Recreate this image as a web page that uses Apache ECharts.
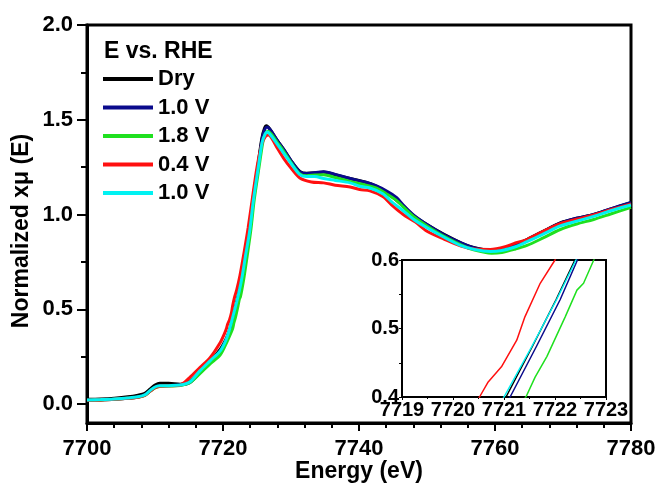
<!DOCTYPE html>
<html><head><meta charset="utf-8">
<script src="https://cdn.jsdelivr.net/npm/echarts@6/dist/echarts.min.js"></script>
<style>html,body{margin:0;padding:0;background:#fff}#c{width:659px;height:486px}</style>
</head><body><div id="c"></div>
<script>
// ---- data: [Energy (eV), normalized xμ(E)] ----
const seriesNames = ['Dry', '1.0 V', '1.8 V', '0.4 V', '1.0 V '];
const seriesColors = ['#000000', '#0a0a8c', '#1fe01f', '#ff1010', '#00f2f2'];
const xTicks = [7700, 7720, 7740, 7760, 7780];
const yMajorTicks = [0, 0.5, 1.0, 1.5, 2.0];
const yMinorTicks = [0.25, 0.75, 1.25, 1.75];
const insetXTicks = [7719, 7720, 7721, 7722, 7723];
const insetYTicks = [0.4, 0.5, 0.6];

const dry = [[7700,0.025],[7702,0.027],[7704,0.031],[7706,0.038],[7707.5,0.047],[7708.5,0.057],[7709.3,0.08],[7710,0.10],[7710.7,0.11],[7712,0.11],[7713.7,0.105],[7715.1,0.12],[7716.6,0.17],[7718.1,0.225],[7719.6,0.29],[7720.4,0.34],[7720.75,0.37],[7721.04,0.40],[7721.55,0.473],[7722.02,0.542],[7722.39,0.60],[7722.8,0.67],[7723.3,0.78],[7723.9,0.93],[7724.4,1.08],[7725.1,1.25],[7725.7,1.40],[7726.1,1.455],[7726.4,1.468],[7726.9,1.45],[7727.9,1.395],[7728.9,1.345],[7729.9,1.29],[7731.3,1.228],[7732.3,1.218],[7733.5,1.22],[7734.8,1.225],[7736.5,1.21],[7738.7,1.19],[7741,1.17],[7742.5,1.15],[7744,1.12],[7745,1.09],[7746.5,1.045],[7748,0.995],[7750,0.947],[7752.5,0.895],[7755,0.851],[7757,0.825],[7759.3,0.812],[7761,0.818],[7763,0.84],[7764.7,0.868],[7767,0.91],[7769.6,0.956],[7772,0.98],[7774.5,1.0],[7777,1.03],[7780,1.063]];
const v10a = [[7700,0.02],[7702,0.022],[7704,0.025],[7706,0.03],[7707.5,0.037],[7708.5,0.048],[7709.3,0.07],[7710,0.088],[7710.7,0.096],[7712,0.097],[7713.7,0.1],[7715.1,0.113],[7716.6,0.165],[7718.1,0.218],[7719.6,0.28],[7720.4,0.33],[7720.8,0.365],[7721.12,0.40],[7721.63,0.473],[7722.1,0.542],[7722.44,0.60],[7722.85,0.67],[7723.35,0.78],[7723.95,0.93],[7724.45,1.08],[7725.15,1.25],[7725.75,1.40],[7726.15,1.45],[7726.5,1.462],[7727,1.445],[7728,1.39],[7729,1.34],[7730,1.285],[7731.3,1.225],[7732.3,1.217],[7733.5,1.22],[7734.8,1.226],[7736.5,1.212],[7738.7,1.19],[7741,1.17],[7742.5,1.152],[7744,1.125],[7745.5,1.09],[7746.5,1.05],[7748,0.998],[7750,0.947],[7752.5,0.893],[7755,0.85],[7757,0.823],[7759.3,0.81],[7761,0.816],[7763,0.838],[7764.7,0.866],[7767,0.908],[7769.6,0.955],[7772,0.98],[7774.5,1.0],[7777,1.03],[7780,1.064]];
const v18 = [[7700,0.02],[7702,0.022],[7704,0.025],[7706,0.03],[7707.5,0.036],[7708.5,0.045],[7709.3,0.068],[7710,0.085],[7710.7,0.093],[7712,0.095],[7713.7,0.098],[7715.1,0.112],[7716.6,0.16],[7718.1,0.212],[7719.6,0.26],[7720.6,0.33],[7721.1,0.37],[7721.43,0.40],[7721.61,0.429],[7721.84,0.459],[7722.2,0.517],[7722.43,0.556],[7722.56,0.566],[7722.76,0.60],[7723.1,0.67],[7723.55,0.78],[7724.1,0.92],[7724.6,1.08],[7725.3,1.25],[7725.9,1.39],[7726.3,1.43],[7726.6,1.44],[7727.1,1.425],[7728,1.38],[7729,1.33],[7730,1.275],[7731.3,1.215],[7732.3,1.205],[7733.5,1.208],[7734.8,1.21],[7736.5,1.195],[7738.7,1.175],[7741,1.155],[7742.5,1.14],[7744,1.11],[7745.5,1.075],[7746.5,1.04],[7748,0.99],[7750,0.94],[7752.5,0.885],[7755,0.84],[7757,0.812],[7759.5,0.796],[7761,0.80],[7763,0.818],[7764.7,0.837],[7767,0.875],[7769.6,0.921],[7772,0.95],[7774.5,0.974],[7777,1.003],[7780,1.038]];
const v04 = [[7700,0.02],[7702,0.022],[7704,0.025],[7706,0.03],[7707.5,0.036],[7708.5,0.046],[7709.3,0.068],[7710,0.086],[7710.7,0.094],[7712,0.096],[7713.7,0.1],[7715.1,0.14],[7716.6,0.193],[7718.1,0.245],[7719.6,0.325],[7720.2,0.37],[7720.52,0.40],[7720.69,0.422],[7720.95,0.444],[7721.25,0.483],[7721.41,0.517],[7721.71,0.566],[7722.0,0.60],[7722.5,0.68],[7723.1,0.8],[7723.7,0.93],[7724.3,1.08],[7725.0,1.25],[7725.7,1.37],[7726.2,1.41],[7726.7,1.42],[7727.2,1.40],[7728,1.35],[7728.9,1.298],[7730,1.245],[7731.3,1.193],[7733,1.172],[7734.8,1.167],[7736.5,1.155],[7738.7,1.145],[7740.1,1.132],[7741.6,1.125],[7743.5,1.095],[7745,1.044],[7746.5,1.0],[7748.3,0.96],[7750,0.912],[7752.5,0.87],[7755,0.833],[7757,0.818],[7759.3,0.816],[7761.5,0.83],[7763,0.85],[7764.7,0.868],[7767,0.91],[7769.6,0.952],[7772,0.975],[7774.5,0.998],[7777,1.025],[7780,1.056]];
const v10b = [[7700,0.022],[7702,0.024],[7704,0.027],[7706,0.032],[7707.5,0.038],[7708.5,0.048],[7709.3,0.072],[7710,0.09],[7710.7,0.096],[7712,0.097],[7713.7,0.1],[7715.1,0.116],[7716.6,0.175],[7718.1,0.228],[7719.6,0.281],[7720.4,0.335],[7720.75,0.37],[7721.0,0.40],[7721.54,0.473],[7722.03,0.542],[7722.41,0.60],[7722.8,0.67],[7723.3,0.78],[7723.95,0.92],[7724.45,1.07],[7725.15,1.24],[7725.75,1.38],[7726.2,1.425],[7726.5,1.435],[7727,1.42],[7728,1.37],[7729,1.32],[7730,1.27],[7731.3,1.21],[7732.3,1.2],[7733.5,1.2],[7734.8,1.19],[7736.5,1.18],[7738.7,1.167],[7740.1,1.149],[7741.6,1.14],[7743.5,1.11],[7745,1.061],[7746.5,1.02],[7748,0.975],[7750,0.93],[7752.5,0.88],[7755,0.836],[7757,0.815],[7759.3,0.805],[7761,0.81],[7763,0.83],[7764.7,0.857],[7767,0.895],[7769.6,0.94],[7772,0.965],[7774.5,0.99],[7777,1.02],[7780,1.05]];
const allData = [dry, v10a, v18, v04, v10b];

// ---- chart ----
const FONT = 'Liberation Sans, Arial, sans-serif';
const chart = echarts.init(document.getElementById('c'), null, {renderer: 'canvas'});
const lblStyle = (size) => ({fontFamily: FONT, fontWeight: 'bold', fontSize: size, color: '#000'});

const series = [];
allData.forEach((d, i) => {
  series.push({name: seriesNames[i], type: 'line', data: d, xAxisIndex: 0, yAxisIndex: 0,
    showSymbol: false, symbol: 'none', smooth: 0.3, clip: true, silent: true, animation: false,
    lineStyle: {color: seriesColors[i], width: 3}, itemStyle: {color: seriesColors[i]}, z: 2 + i});
});
allData.forEach((d, i) => {
  series.push({name: seriesNames[i], type: 'line', data: d, xAxisIndex: 1, yAxisIndex: 2,
    showSymbol: false, symbol: 'none', clip: true, silent: true, animation: false,
    lineStyle: {color: seriesColors[i], width: 1.5}, itemStyle: {color: seriesColors[i]}, z: 20 + i});
});

chart.setOption({
  backgroundColor: '#fff',
  animation: false,
  grid: [
    {left: 87, top: 25, width: 544, height: 398, show: true, borderColor: '#000', borderWidth: 3, backgroundColor: 'transparent', containLabel: false, outerBoundsMode: 'none'},
    {left: 402, top: 260, width: 204, height: 137, show: true, borderColor: '#000', borderWidth: 2, backgroundColor: '#fff', containLabel: false, outerBoundsMode: 'none', z: 10}
  ],
  legend: {
    data: seriesNames, left: 103, top: 68, orient: 'vertical', icon: 'rect',
    itemWidth: 50, itemHeight: 4, itemGap: 6.5, padding: 0,
    formatter: (n) => n.trim(),
    textStyle: Object.assign(lblStyle(22), {lineHeight: 22, padding: [0, 0, 0, 0]}),
    selectedMode: false
  },
  xAxis: [
    {type: 'value', gridIndex: 0, min: 7700, max: 7780, interval: 20, position: 'bottom',
      axisLine: {show: true, onZero: false, lineStyle: {color: '#000', width: 3}},
      axisTick: {show: true, length: 8, lineStyle: {color: '#000', width: 2}},
      minorTick: {show: true, splitNumber: 5, length: 5, lineStyle: {color: '#000', width: 2}},
      splitLine: {show: false},
      axisLabel: Object.assign(lblStyle(22), {margin: 15, formatter: (v) => String(v), showMinLabel: true, showMaxLabel: true, hideOverlap: false})},
    {type: 'value', gridIndex: 1, min: 7719, max: 7723, interval: 1, position: 'bottom',
      axisLine: {show: true, onZero: false, lineStyle: {color: '#000', width: 2}},
      axisTick: {show: true, length: 3, lineStyle: {color: '#000', width: 1}},
      minorTick: {show: true, splitNumber: 2, length: 2, lineStyle: {color: '#000', width: 1}},
      splitLine: {show: false},
      axisLabel: Object.assign(lblStyle(20), {margin: 3, formatter: (v) => String(v), showMinLabel: true, showMaxLabel: true, hideOverlap: false})}
  ],
  yAxis: [
    {type: 'value', gridIndex: 0, min: -0.1, max: 2.0, position: 'left',
      axisLine: {show: true, onZero: false, lineStyle: {color: '#000', width: 3}},
      axisTick: {show: true, length: 10, customValues: yMajorTicks, lineStyle: {color: '#000', width: 2}},
      splitLine: {show: false},
      axisLabel: Object.assign(lblStyle(22), {margin: 14, customValues: yMajorTicks, formatter: (v) => v.toFixed(1), showMinLabel: true, showMaxLabel: true, hideOverlap: false})},
    {type: 'value', gridIndex: 0, min: -0.1, max: 2.0, position: 'left', offset: 0,
      axisLine: {show: false},
      axisTick: {show: true, length: 6, customValues: yMinorTicks, lineStyle: {color: '#000', width: 2}},
      splitLine: {show: false},
      axisLabel: {show: false}},
    {type: 'value', gridIndex: 1, min: 0.4, max: 0.6, interval: 0.1, position: 'left',
      axisLine: {show: true, onZero: false, lineStyle: {color: '#000', width: 2}},
      axisTick: {show: true, length: 3, lineStyle: {color: '#000', width: 1}},
      minorTick: {show: true, splitNumber: 2, length: 3, lineStyle: {color: '#000', width: 1}},
      splitLine: {show: false},
      axisLabel: Object.assign(lblStyle(20), {margin: 3, formatter: (v) => v.toFixed(1), showMinLabel: true, showMaxLabel: true, hideOverlap: false})}
  ],
  graphic: [
    {type: 'text', left: 104, top: 40, style: {text: 'E vs. RHE', fill: '#000', font: 'bold 23px ' + FONT}},
    {type: 'text', x: 359, y: 472, style: {text: 'Energy (eV)', font: 'bold 23px ' + FONT, fill: '#000', align: 'center', verticalAlign: 'middle'}},
    {type: 'text', x: 22, y: 231, rotation: Math.PI / 2, style: {text: 'Normalized xμ (E)', font: 'bold 23px ' + FONT, fill: '#000', align: 'center', verticalAlign: 'middle'}}
  ],
  series: series
});
</script>
</body></html>
